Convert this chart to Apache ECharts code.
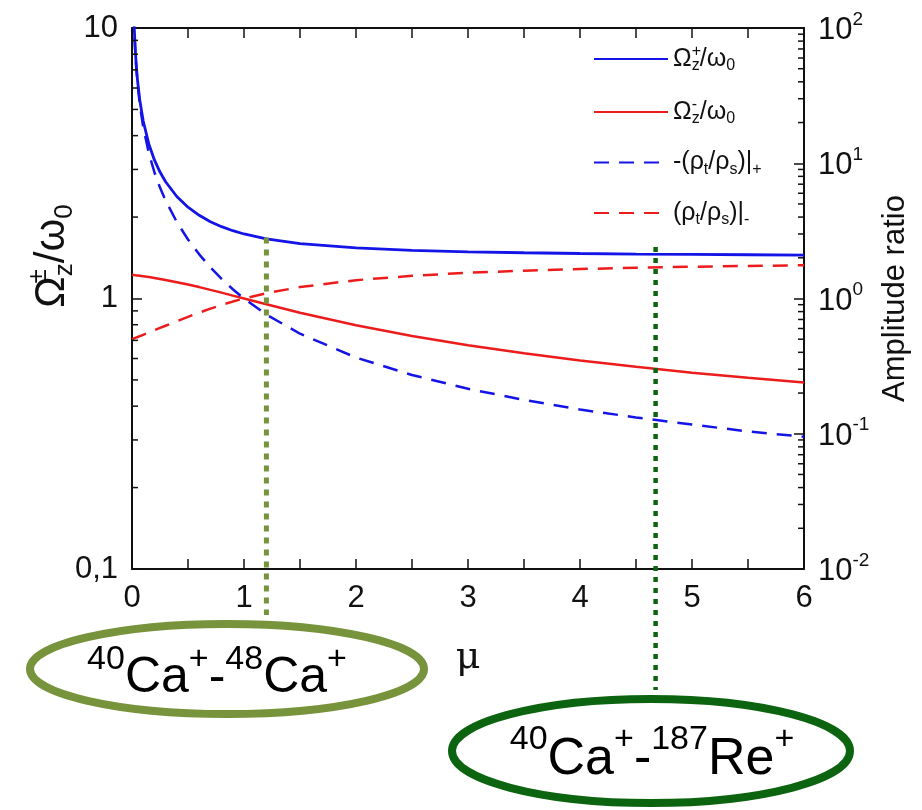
<!DOCTYPE html>
<html>
<head>
<meta charset="utf-8">
<script src="https://cdn.jsdelivr.net/npm/echarts@6/dist/echarts.min.js"></script>
<style>
html,body{margin:0;padding:0;background:#fff;}
#chart{width:922px;height:810px;}
</style>
</head>
<body>
<div id="chart"></div>
<script>
// ---- data ----
const mu = [0, 0.015, 0.02, 0.03, 0.04, 0.05, 0.07, 0.1, 0.15, 0.2, 0.25, 0.3, 0.4, 0.5, 0.6, 0.7, 0.8, 0.9, 1.0, 1.2, 1.5, 2.0, 2.5, 3.0, 3.5, 4.0, 4.5, 5.0, 5.5, 6.0];
const omegaPlus = [null, 11.57, 10.03, 8.196, 7.107, 6.365, 5.394, 4.532, 3.727, 3.253, 2.934, 2.701, 2.383, 2.175, 2.030, 1.923, 1.843, 1.781, 1.732, 1.662, 1.596, 1.538, 1.507, 1.488, 1.476, 1.467, 1.460, 1.455, 1.451, 1.447];
const omegaMinus = [1.225, 1.223, 1.222, 1.220, 1.219, 1.217, 1.214, 1.209, 1.200, 1.191, 1.181, 1.171, 1.149, 1.126, 1.102, 1.076, 1.051, 1.025, 1.000, 0.952, 0.886, 0.796, 0.727, 0.672, 0.627, 0.590, 0.559, 0.532, 0.509, 0.489];
const ratioPlus = [null, 131.8, 98.5, 65.18, 48.52, 38.52, 27.10, 18.54, 11.89, 8.583, 6.606, 5.296, 3.679, 2.732, 2.120, 1.698, 1.396, 1.171, 1.000, 0.761, 0.549, 0.366, 0.272, 0.215, 0.178, 0.151, 0.132, 0.117, 0.104, 0.095];
const ratioMinus = [0.500, 0.505, 0.508, 0.512, 0.515, 0.519, 0.527, 0.539, 0.561, 0.583, 0.606, 0.629, 0.679, 0.732, 0.786, 0.841, 0.896, 0.949, 1.000, 1.095, 1.215, 1.366, 1.472, 1.549, 1.606, 1.651, 1.687, 1.717, 1.741, 1.761];
const xTicks = [0, 1, 2, 3, 4, 5, 6];
const leftTicks = [0.1, 1, 10];
const rightTicks = [0.01, 0.1, 1, 10, 100];
const markers = [
  { mu: 1.2, top: 1.68, label: ['40', 'Ca', '+', '48', 'Ca', '+'] },
  { mu: 4.675, top: 1.55, label: ['40', 'Ca', '+', '187', 'Re', '+'] }
];

const BLUE = '#1414e6';
const RED = '#ec1c1c';
const OLIVE = '#77933c';
const DGREEN = '#0d6410';
const FONT = '"Liberation Sans", Arial, sans-serif';

function pairs(ys) { return mu.map((m, i) => [m, ys[i]]); }

const legendRich = {
  m: { fontSize: 25, fontFamily: FONT, color: '#111', lineHeight: 30, verticalAlign: 'middle' },
  sp: { fontSize: 16, fontFamily: FONT, color: '#111', lineHeight: 15, verticalAlign: 'top', width: 0 },
  sb: { fontSize: 16, fontFamily: FONT, color: '#111', lineHeight: 15, verticalAlign: 'bottom' }
};
const legendText = {
  'Ω+': '{m|Ω}{sp|+}{sb|z}{m|/ω}{sb|0}',
  'Ω-': '{m|Ω}{sp|-}{sb|z}{m|/ω}{sb|0}',
  'ratio+': '{m|-(ρ}{sb|t}{m|/ρ}{sb|s}{m|)|}{sb|+}',
  'ratio-': '{m|(ρ}{sb|t}{m|/ρ}{sb|s}{m|)|}{sb|-}'
};

const chart = echarts.init(document.getElementById('chart'), null, { renderer: 'canvas' });

const axisLine = { show: true, onZero: false, lineStyle: { color: '#111', width: 2 } };

const option = {
  animation: false,
  backgroundColor: '#fff',
  grid: { left: 132, right: 118, top: 28, bottom: 241, containLabel: false },
  legend: {
    orient: 'vertical', left: 588, top: 39, itemWidth: 74, itemHeight: 14, itemGap: 23,
    data: ['Ω+', 'Ω-', 'ratio+', 'ratio-'],
    formatter: n => legendText[n],
    itemStyle: { opacity: 0 },
    textStyle: { rich: legendRich, padding: [0, 0, 0, 0] }
  },
  xAxis: [
    {
      type: 'value', min: 0, max: 6, interval: 0.5, position: 'bottom',
      axisLine: axisLine,
      axisTick: { show: true, inside: true, length: 10, lineStyle: { color: '#111', width: 1.5 } },
      axisLabel: {
        margin: 14, fontSize: 31, fontFamily: FONT, color: '#111',
        formatter: v => (xTicks.indexOf(v) >= 0 ? String(v) : '')
      },
      splitLine: { show: false },
      name: 'μ', nameLocation: 'middle', nameGap: 70,
      nameTextStyle: { fontSize: 38, fontFamily: '"DejaVu Serif", "Liberation Serif", serif', color: '#111', padding: [0, 0, 0, 0] }
    },
    {
      type: 'value', min: 0, max: 6, interval: 0.5, position: 'top',
      axisLine: axisLine,
      axisTick: { show: true, inside: true, length: 10, lineStyle: { color: '#111', width: 1.5 } },
      axisLabel: { show: false },
      splitLine: { show: false }
    }
  ],
  yAxis: [
    {
      type: 'log', logBase: 10, min: 0.1, max: 10, position: 'left',
      axisLine: axisLine,
      axisTick: { show: true, inside: true, length: 10, lineStyle: { color: '#111', width: 1.5 } },
      axisLabel: {
        margin: 14, fontSize: 31, fontFamily: FONT, color: '#111',
        formatter: v => {
          const t = leftTicks.find(t => Math.abs(t - v) < 1e-9 * Math.max(1, v));
          if (t === undefined) return '';
          return t === 0.1 ? '0,1' : String(t);
        }
      },
      splitLine: { show: false }
    },
    {
      type: 'log', logBase: 10, min: 0.01, max: 100, position: 'right',
      axisLine: axisLine,
      axisTick: { show: true, inside: true, length: 10, lineStyle: { color: '#111', width: 1.5 } },
      axisLabel: {
        margin: 14, fontFamily: FONT, color: '#111',
        formatter: v => {
          const e = Math.round(Math.log10(v));
          return '{b|10}{s|' + e + '}';
        },
        rich: {
          b: { fontSize: 31, fontFamily: FONT, color: '#111', lineHeight: 36, verticalAlign: 'bottom' },
          s: { fontSize: 19, fontFamily: FONT, color: '#111', lineHeight: 36, verticalAlign: 'top' }
        }
      },
      splitLine: { show: false },
      name: 'Amplitude ratio', nameLocation: 'middle', nameRotate: 90, nameGap: 76,
      nameTextStyle: { fontSize: 31, fontFamily: FONT, color: '#111' }
    }
  ],
  series: [
    { name: 'Ω+', type: 'line', xAxisIndex: 0, yAxisIndex: 0, data: pairs(omegaPlus), showSymbol: false, symbol: 'none', lineStyle: { color: BLUE, width: 2.8 }, itemStyle: { color: BLUE }, z: 3 },
    { name: 'Ω-', type: 'line', xAxisIndex: 0, yAxisIndex: 0, data: pairs(omegaMinus), showSymbol: false, symbol: 'none', lineStyle: { color: RED, width: 2.5 }, itemStyle: { color: RED }, z: 3 },
    { name: 'ratio+', type: 'line', xAxisIndex: 0, yAxisIndex: 1, data: pairs(ratioPlus), showSymbol: false, symbol: 'none', lineStyle: { color: BLUE, width: 2.5, type: [15, 10] }, itemStyle: { color: BLUE }, z: 3 },
    { name: 'ratio-', type: 'line', xAxisIndex: 0, yAxisIndex: 1, data: pairs(ratioMinus), showSymbol: false, symbol: 'none', lineStyle: { color: RED, width: 2.5, type: [15, 10] }, itemStyle: { color: RED }, z: 3 }
  ]
};
chart.setOption(option);

// ---- overlay: log minor ticks, axis title, dotted markers, ion-pair ellipses ----
const g = [];
function px(xa, ya, p) { return chart.convertToPixel({ xAxisIndex: xa, yAxisIndex: ya }, p); }
const leftX = px(0, 0, [0, 1])[0];
const rightX = px(0, 0, [6, 1])[0];
[0.1, 1].forEach(d => { for (let k = 2; k <= 9; k++) {
  const y = px(0, 0, [0, d * k])[1];
  g.push({ type: 'line', shape: { x1: leftX, y1: y, x2: leftX + 6, y2: y }, style: { stroke: '#111', lineWidth: 1.5 }, z: 10 });
}});
[0.01, 0.1, 1, 10].forEach(d => { for (let k = 2; k <= 9; k++) {
  const y = px(0, 1, [6, d * k])[1];
  g.push({ type: 'line', shape: { x1: rightX, y1: y, x2: rightX - 6, y2: y }, style: { stroke: '#111', lineWidth: 1.5 }, z: 10 });
}});

// left axis title
g.push({
  type: 'text', x: 52, y: 256, rotation: Math.PI / 2, z: 10,
  style: {
    text: '{m|Ω}{sp|±}{sb|z}{m|/ω}{sb|0}', align: 'center', verticalAlign: 'middle',
    rich: {
      m: { fontSize: 42, fontFamily: FONT, fill: '#111', lineHeight: 52, verticalAlign: 'middle' },
      sp: { fontSize: 26, fontFamily: FONT, fill: '#111', lineHeight: 26, verticalAlign: 'top', width: 0 },
      sb: { fontSize: 26, fontFamily: FONT, fill: '#111', lineHeight: 26, verticalAlign: 'bottom' }
    }
  }
});

// markers
const ell = [
  { cx: 227, cy: 669, rx: 197, ry: 45, color: OLIVE, bottom: 615, dash: [6, 6], w: 5, tx: 217, ty: 673, m: 50, s: 34 },
  { cx: 651, cy: 751, rx: 199, ry: 52, color: DGREEN, bottom: 690, dash: [5, 6], w: 4.5, tx: 652, ty: 754, m: 52, s: 34 }
];
markers.forEach((mk, i) => {
  const e = ell[i];
  const p = px(0, 0, [mk.mu, mk.top]);
  g.push({ type: 'line', shape: { x1: p[0], y1: p[1], x2: p[0], y2: e.bottom }, style: { stroke: e.color, lineWidth: e.w, lineDash: e.dash }, z: 5 });
  g.push({ type: 'ellipse', shape: { cx: e.cx, cy: e.cy, rx: e.rx, ry: e.ry }, style: { stroke: e.color, lineWidth: 8, fill: 'none' }, z: 6 });
  const L = mk.label;
  g.push({
    type: 'text', x: e.tx, y: e.ty, z: 7,
    style: {
      text: '{s|' + L[0] + '}{m|' + L[1] + '}{s|' + L[2] + '}{m|-}{s|' + L[3] + '}{m|' + L[4] + '}{s|' + L[5] + '}',
      align: 'center', verticalAlign: 'middle',
      rich: {
        m: { fontSize: e.m, fontFamily: FONT, fill: '#000', lineHeight: e.m * 1.2, verticalAlign: 'bottom' },
        s: { fontSize: e.s, fontFamily: FONT, fill: '#000', lineHeight: e.s, verticalAlign: 'top' }
      }
    }
  });
});
chart.setOption({ graphic: g });
</script>
</body>
</html>
